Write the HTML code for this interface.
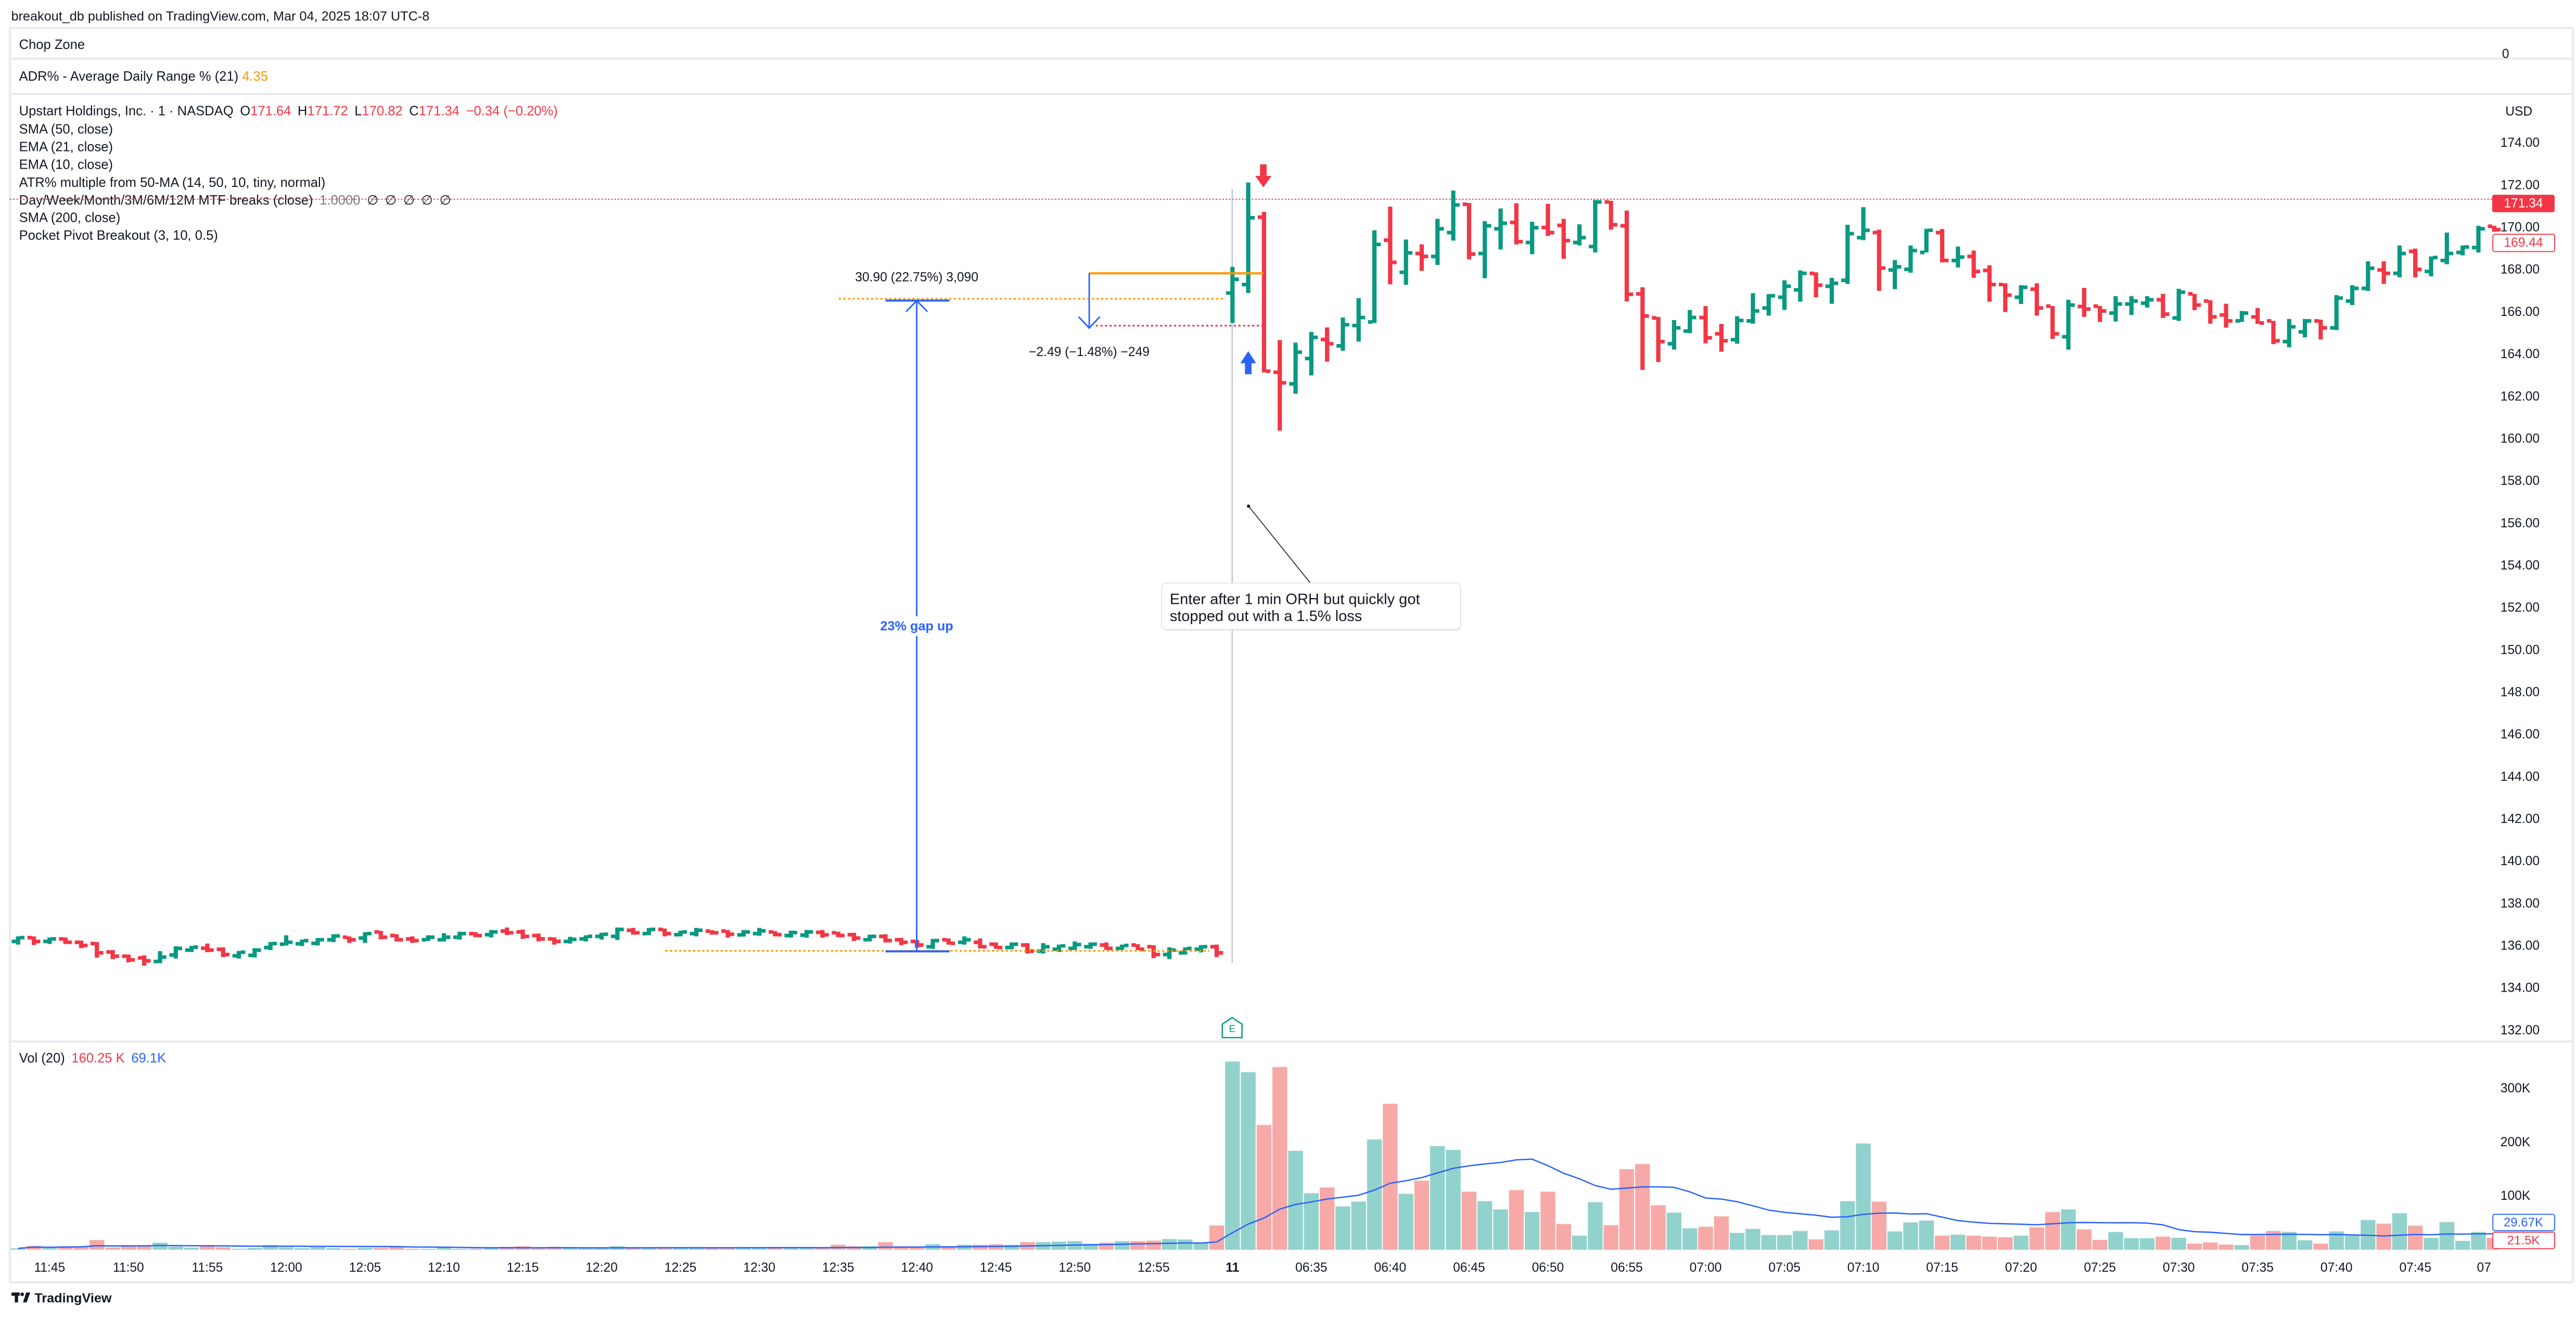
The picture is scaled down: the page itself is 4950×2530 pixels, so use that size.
<!DOCTYPE html>
<html><head><meta charset="utf-8"><style>
html,body{margin:0;padding:0;background:#fff;}
svg{display:block;font-family:"Liberation Sans",sans-serif;}
</style></head><body>
<svg id="chart" width="4950" height="2530" viewBox="0 0 1568 801.4" xmlns="http://www.w3.org/2000/svg">
<rect x="0" y="0" width="1568" height="801.4" fill="#ffffff"/>
<text x="6.8" y="10" dominant-baseline="central" font-size="8" fill="#131722">breakout_db published on TradingView.com, Mar 04, 2025 18:07 UTC-8</text>
<g stroke="#e9eaee" stroke-width="1.3">
<line x1="6" y1="17" x2="1566" y2="17"/><line x1="6" y1="35.7" x2="1566" y2="35.7"/><line x1="6" y1="57.2" x2="1566" y2="57.2"/>
<line x1="6" y1="633.8" x2="1566" y2="633.8"/><line x1="6" y1="780.3" x2="1566" y2="780.3"/>
<line x1="6" y1="17" x2="6" y2="780.3"/><line x1="1566" y1="17" x2="1566" y2="780.3"/>
</g>
<text x="11.6" y="27.2" dominant-baseline="central" font-size="8.1" fill="#131722">Chop Zone</text>
<text x="1523" y="33" dominant-baseline="central" font-size="7.8" fill="#131722">0</text>
<text x="11.6" y="46.5" dominant-baseline="central" font-size="8.1" fill="#131722">ADR% - Average Daily Range % (21) <tspan fill="#ff9800">4.35</tspan></text>
<g font-size="8.1" fill="#131722">
<text x="11.6" y="67.6" dominant-baseline="central">Upstart Holdings, Inc. · 1 · NASDAQ<tspan dx="4">O</tspan><tspan fill="#f23645">171.64</tspan><tspan dx="4">H</tspan><tspan fill="#f23645">171.72</tspan><tspan dx="4">L</tspan><tspan fill="#f23645">170.82</tspan><tspan dx="4">C</tspan><tspan fill="#f23645">171.34</tspan><tspan dx="4" fill="#f23645">−0.34 (−0.20%)</tspan></text>
<text x="11.6" y="78.7" dominant-baseline="central">SMA (50, close)</text>
<text x="11.6" y="89.5" dominant-baseline="central">EMA (21, close)</text>
<text x="11.6" y="100.3" dominant-baseline="central">EMA (10, close)</text>
<text x="11.6" y="111.1" dominant-baseline="central">ATR% multiple from 50-MA (14, 50, 10, tiny, normal)</text>
<text x="11.6" y="122" dominant-baseline="central">Day/Week/Month/3M/6M/12M MTF breaks (close)<tspan dx="4" fill="#787b86">1.0000</tspan><tspan dx="4">∅</tspan><tspan dx="4">∅</tspan><tspan dx="4">∅</tspan><tspan dx="4">∅</tspan><tspan dx="4">∅</tspan></text>
<text x="11.6" y="132.5" dominant-baseline="central">SMA (200, close)</text>
<text x="11.6" y="143.3" dominant-baseline="central">Pocket Pivot Breakout (3, 10, 0.5)</text>
</g>
<text x="1525" y="68" dominant-baseline="central" font-size="7.8" fill="#131722">USD</text>
<line x1="6" y1="121.2" x2="1522" y2="121.2" stroke="#f23645" stroke-width="0.6" stroke-dasharray="1,1"/>
<line x1="750" y1="115" x2="750" y2="586" stroke="#b2b5be" stroke-width="0.6"/>
<g id="priceAxis"></g>
<g id="candles"></g>
<g id="volAxis"></g>
<g id="volumes"></g>
<g id="timeAxis"></g>

<g>
<line x1="510.6" y1="181.8" x2="746" y2="181.8" stroke="#ff9800" stroke-width="1" stroke-dasharray="1.3,1.5"/>
<line x1="405" y1="578.6" x2="736" y2="578.6" stroke="#ff9800" stroke-width="1" stroke-dasharray="1.3,1.5"/>
<line x1="539" y1="182.9" x2="578" y2="182.9" stroke="#2962ff" stroke-width="1.2"/>
<line x1="539" y1="578.9" x2="578" y2="578.9" stroke="#2962ff" stroke-width="1.2"/>
<line x1="558" y1="183" x2="558" y2="578.9" stroke="#2962ff" stroke-width="0.9"/>
<polyline points="551.5,189.6 558,183 564.5,189.6" fill="none" stroke="#2962ff" stroke-width="0.9"/>
<text x="558" y="168.8" text-anchor="middle" dominant-baseline="central" font-size="7.8" fill="#131722">30.90 (22.75%) 3,090</text>
<rect x="530" y="375" width="56" height="12" fill="#ffffff"/>
<text x="558" y="381" text-anchor="middle" dominant-baseline="central" font-size="8" font-weight="bold" fill="#2962ff">23% gap up</text>
</g>
<g>
<line x1="663" y1="166.3" x2="769" y2="166.3" stroke="#ff9800" stroke-width="1.3"/>
<line x1="667" y1="198.2" x2="769" y2="198.2" stroke="#f23645" stroke-width="1" stroke-dasharray="1.3,1.5"/>
<line x1="663" y1="166.3" x2="663" y2="199.6" stroke="#2962ff" stroke-width="0.9"/>
<polyline points="656.5,192.7 663,199.6 669.5,192.7" fill="none" stroke="#2962ff" stroke-width="0.9"/>
<text x="663" y="214.3" text-anchor="middle" dominant-baseline="central" font-size="7.8" fill="#131722">−2.49 (−1.48%) −249</text>
</g>
<g fill="#f23645"><rect x="767" y="100" width="4" height="7"/><polygon points="764,107 774,107 769,114"/></g>
<g fill="#2962ff"><rect x="757.8" y="220.8" width="4" height="6.9"/><polygon points="755,221 764.6,221 759.8,213.7"/></g>
<g>
<line x1="760" y1="308" x2="797.6" y2="354.8" stroke="#131722" stroke-width="0.5"/>
<circle cx="760" cy="308" r="1" fill="#131722"/>
<rect x="707.4" y="355.6" width="182" height="28.2" rx="3" fill="#e6e7ea"/>
<rect x="707" y="354.8" width="182" height="28.2" rx="3" fill="#ffffff" stroke="#e0e3eb" stroke-width="0.5"/>
<text x="712" y="364.8" dominant-baseline="central" font-size="9.2" fill="#131722">Enter after 1 min ORH but quickly got</text>
<text x="712" y="375" dominant-baseline="central" font-size="9.2" fill="#131722">stopped out with a 1.5% loss</text>
</g>
<g>
<polygon points="750,619.2 756,623.2 756,631.4 744,631.4 744,623.2" fill="#ffffff" stroke="#089981" stroke-width="0.8"/>
<text x="750" y="626.2" text-anchor="middle" dominant-baseline="central" font-size="6" fill="#089981">E</text>
</g>
<rect x="1517" y="118.5" width="38" height="10.6" rx="1.2" fill="#f23645"/>
<text x="1536" y="123.8" text-anchor="middle" dominant-baseline="central" font-size="7.8" fill="#ffffff">171.34</text>
<rect x="1517.4" y="142.5" width="37.6" height="10.6" rx="1.2" fill="#ffffff" stroke="#f23645" stroke-width="0.6"/>
<text x="1536" y="147.8" text-anchor="middle" dominant-baseline="central" font-size="7.8" fill="#f23645">169.44</text>
<text x="11.6" y="644" dominant-baseline="central" font-size="8.1" fill="#131722">Vol (20)<tspan dx="4" fill="#f23645">160.25 K</tspan><tspan dx="4" fill="#2962ff">69.1K</tspan></text>
<rect x="1517.4" y="738.9" width="37.6" height="10" rx="1.2" fill="#ffffff" stroke="#2962ff" stroke-width="0.6"/>
<text x="1536" y="743.9" text-anchor="middle" dominant-baseline="central" font-size="7.6" fill="#2962ff">29.67K</text>
<rect x="1517.4" y="749.8" width="37.6" height="10" rx="1.2" fill="#ffffff" stroke="#f23645" stroke-width="0.6"/>
<text x="1536" y="754.8" text-anchor="middle" dominant-baseline="central" font-size="7.6" fill="#f23645">21.5K</text>
<g fill="#131722">
<rect x="7" y="786.5" width="5" height="2"/><rect x="9" y="786.5" width="2" height="6"/><circle cx="13.5" cy="787.6" r="1.1"/><polygon points="14,792.5 16,786.5 18.4,786.5 16.2,792.5"/>
<text x="21" y="790" dominant-baseline="central" font-size="8" font-weight="bold">TradingView</text>
</g>
</svg>
<script>
// ---- data ----
const opens = [136.21,136.39,136.21,136.33,136.17,136.11,135.71,135.51,135.43,135.26,135.57,135.80,135.89,135.84,135.53,135.55,135.92,136.08,136.10,136.12,136.29,136.41,136.37,136.66,136.49,136.33,136.29,136.29,136.41,136.58,136.53,136.70,136.66,136.49,136.33,136.21,136.33,136.45,136.45,136.74,136.58,136.78,136.53,136.58,136.70,136.70,136.52,136.58,136.66,136.49,136.51,136.64,136.62,136.53,136.29,136.45,136.29,136.21,135.96,136.29,136.17,136.17,136.08,135.92,136.04,135.75,135.84,135.88,135.96,136.04,135.88,136.04,135.96,135.59,135.67,135.84,135.96,
166.9,167.3,170.49,163.15,162.6,163.8,164.7,164.4,165.36,165.53,169.4,167.88,168.77,168.63,169.76,171.1,168.77,169.94,170.24,169.29,170.0,170.1,169.29,169.1,171.21,170.08,166.86,165.72,164.5,165.1,165.74,164.97,164.69,165.58,166.19,166.7,167.05,167.83,167.22,167.5,169.52,169.76,167.99,168.02,168.82,169.76,168.44,168.63,167.97,167.3,166.7,167.08,166.28,164.83,166.26,166.28,165.95,166.38,166.42,166.58,165.72,166.86,166.52,165.86,165.58,165.77,165.58,164.6,165.06,165.58,165.25,166.52,167.12,167.99,167.83,168.87,167.92,168.44,168.82,169.05,170.06];
const highs = [136.45,136.45,136.40,136.40,136.25,136.18,135.80,135.59,135.55,135.75,135.98,136.00,136.11,135.93,135.76,135.89,136.18,136.50,136.30,136.37,136.55,136.45,136.65,136.71,136.55,136.45,136.50,136.60,136.67,136.65,136.75,136.87,136.77,136.58,136.40,136.43,136.50,136.62,136.87,136.85,136.85,136.82,136.72,136.85,136.74,136.75,136.75,136.85,136.70,136.72,136.75,136.75,136.67,136.62,136.53,136.55,136.38,136.28,136.33,136.35,136.45,136.35,136.16,136.16,136.13,136.13,136.06,136.21,136.16,136.16,136.06,136.08,136.03,135.93,135.93,136.03,136.06,
168.14,172.13,170.74,164.67,164.55,165.06,165.27,165.74,166.66,169.87,170.99,169.43,169.2,170.41,171.75,171.16,170.3,170.9,171.15,170.27,171.12,170.41,170.15,171.3,171.26,170.8,167.17,165.77,165.62,166.1,166.28,165.44,165.8,166.89,166.85,167.5,167.97,167.88,167.62,170.13,170.96,169.9,168.46,169.15,169.94,169.93,169.1,168.91,168.21,167.36,167.27,167.36,166.28,166.58,167.14,166.29,166.75,166.75,166.75,166.86,167.1,166.86,166.56,166.39,166.05,166.19,165.58,165.67,165.67,165.64,166.8,167.27,168.4,168.4,169.15,169.0,168.63,169.76,169.15,170.08,170.08];
const lows = [136.06,136.04,136.09,136.09,135.89,135.44,135.37,135.22,135.06,135.18,135.40,135.71,135.70,135.47,135.40,135.45,135.80,136.02,135.99,136.02,136.18,136.14,136.14,136.31,136.21,136.14,136.23,136.21,136.30,136.41,136.40,136.51,136.33,136.21,136.06,136.11,136.21,136.30,136.28,136.53,136.51,136.45,136.45,136.45,136.53,136.39,136.44,136.48,136.45,136.39,136.39,136.39,136.41,136.23,136.21,136.16,136.03,135.91,135.86,136.06,136.06,135.88,135.86,135.84,135.64,135.64,135.71,135.81,135.86,135.81,135.81,135.80,135.42,135.37,135.59,135.69,135.47,
165.48,166.9,163.14,160.39,162.13,163.0,163.65,164.17,164.6,165.48,167.31,167.29,167.95,168.23,169.38,168.49,167.6,168.96,169.2,168.74,169.6,168.52,169.15,168.82,169.9,166.5,163.26,163.63,164.22,165.0,164.52,164.12,164.5,165.45,165.83,166.1,166.49,166.7,166.39,167.33,169.4,167.0,167.08,167.86,168.82,168.35,168.11,167.62,166.49,166.0,166.38,165.83,164.73,164.22,165.77,165.53,165.55,165.86,166.21,165.72,165.58,166.09,165.45,165.26,165.53,165.44,164.48,164.33,164.8,164.7,165.15,166.33,167.0,167.33,167.64,167.64,167.69,168.26,168.68,168.82,169.8];
const closes = [136.39,136.21,136.33,136.17,136.02,135.67,135.51,135.34,135.29,135.47,135.88,135.94,135.80,135.59,135.70,135.80,136.11,136.17,136.25,136.29,136.47,136.29,136.58,136.41,136.29,136.25,136.41,136.41,136.58,136.49,136.66,136.62,136.45,136.33,136.21,136.31,136.45,136.55,136.78,136.62,136.78,136.58,136.66,136.74,136.62,136.55,136.66,136.71,136.53,136.63,136.66,136.52,136.49,136.37,136.45,136.25,136.17,136.04,136.25,136.12,136.29,135.96,135.92,136.08,135.75,135.96,136.00,136.06,136.08,135.88,136.02,135.84,135.59,135.80,135.88,135.96,135.67,
167.55,170.46,163.2,162.65,164.1,164.8,164.5,165.4,165.74,169.2,168.35,168.8,168.63,169.94,171.07,168.74,170.08,170.2,169.33,169.99,169.76,169.38,169.52,171.21,170.13,166.84,165.81,164.6,165.25,165.74,164.78,164.64,165.6,166.05,166.77,167.22,167.83,167.27,167.36,169.71,169.87,168.08,168.14,168.91,169.87,168.44,168.6,167.92,167.3,166.8,167.17,166.19,164.97,166.33,166.14,166.05,166.38,166.52,166.58,165.9,166.94,166.33,165.77,165.58,165.95,165.48,164.64,165.3,165.58,165.25,166.66,167.12,168.07,167.83,168.77,168.02,168.58,168.77,169.08,169.94,169.9];
const volumesK = [2.6,7.4,4.2,6.5,6.5,18.1,4.2,8.4,8.4,13.2,5.8,3.9,8.4,4.5,1.9,3.6,8.4,4.5,2.9,4.8,2.9,1.9,3.6,3.6,5.8,1.9,1.9,3.9,1.9,1.9,3.2,5.5,6.5,3.2,5.5,3.2,3.2,3.9,6.5,3.2,3.9,3.9,3.9,3.2,3.2,3.9,3.9,3.2,3.2,3.9,3.2,3.2,9.4,6.5,6.5,14.2,6.5,5.8,10.3,5.2,9.4,9.4,10.3,9.4,14.2,14.2,15.2,16.1,11.3,13.2,16.1,16.1,17.1,20.0,19.1,13.2,45.2,
350.3,330.5,232.1,340.2,184.1,105.2,116.0,80.7,89.7,205.4,271.7,104.1,128.6,192.8,185.9,108.1,90.5,75.0,111.0,70.3,108.1,47.9,26.3,88.6,45.8,149.9,159.6,82.9,69.2,40.0,42.9,62.3,31.4,38.9,27.4,27.4,35.0,19.5,36.0,90.5,197.8,89.7,34.2,50.8,54.4,26.3,28.1,26.3,24.5,23.4,26.3,41.8,70.3,75.0,37.8,18.4,33.2,21.6,21.6,24.5,22.3,11.5,13.7,9.7,8.6,26.3,35.0,33.2,17.7,11.5,34.2,28.1,55.5,48.6,68.1,44.7,22.3,51.5,16.6,33.2,22.3];
const priceTicks = [174,172,170,168,166,164,162,160,158,156,154,152,150,148,146,144,142,140,138,136,134,132];
const volTicks = [100,200,300];
const volTickLabels = ["100K","200K","300K"];
const timeLabelIdx = [2,7,12,17,22,27,32,37,42,47,52,57,62,67,72,77,82,87,92,97,102,107,112,117,122,127,132,137,142,147,152,157];
const timeLabelText = ["11:45","11:50","11:55","12:00","12:05","12:10","12:15","12:20","12:25","12:30","12:35","12:40","12:45","12:50","12:55","11","06:35","06:40","06:45","06:50","06:55","07:00","07:05","07:10","07:15","07:20","07:25","07:30","07:35","07:40","07:45","07"];
const maLen = 20;

// ---- scales ----
const NS = "http://www.w3.org/2000/svg";
const xOf = i => 11 + 9.6 * i;
const yP = p => 627 - (p - 132) * 12.857;
const yV = v => 760.5 - v * 0.327;
const PLOT_R = 1521;
const GREEN = "#089981", RED = "#f23645";
function el(tag, parent){ const e = document.createElementNS(NS, tag); parent.appendChild(e); return e; }

// price axis
const pa = document.getElementById("priceAxis");
priceTicks.forEach(p => {
  const t = el("text", pa);
  
  
  t.setAttribute("x", 1522); t.setAttribute("y", yP(p));
  t.setAttribute("dominant-baseline", "central"); t.setAttribute("font-size", "7.8"); t.setAttribute("fill", "#131722");
  t.textContent = p.toFixed(2);
});

// candles
const cg = document.getElementById("candles");
for (let i = 0; i < opens.length; i++) {
  const x = xOf(i);
  if (x > PLOT_R) continue;
  const col = closes[i] >= opens[i] ? GREEN : RED;
  const g = el("g", cg);
  
  
  g.setAttribute("fill", col);
  const s = el("rect", g);
  s.setAttribute("x", x - 1.3); s.setAttribute("width", 2.6);
  s.setAttribute("y", yP(highs[i])); s.setAttribute("height", Math.max(1, yP(lows[i]) - yP(highs[i])));
  const o = el("rect", g);
  o.setAttribute("x", x - 3.9); o.setAttribute("width", 2.7);
  o.setAttribute("y", yP(opens[i]) - 1.1); o.setAttribute("height", 2.2);
  const c = el("rect", g);
  c.setAttribute("x", x + 1.2); c.setAttribute("width", 2.7);
  c.setAttribute("y", yP(closes[i]) - 1.1); c.setAttribute("height", 2.2);
}

// volume axis
const va = document.getElementById("volAxis");
volTicks.forEach((v, k) => {
  const t = el("text", va);
  
  
  t.setAttribute("x", 1522); t.setAttribute("y", yV(v));
  t.setAttribute("dominant-baseline", "central"); t.setAttribute("font-size", "7.8"); t.setAttribute("fill", "#131722");
  t.textContent = volTickLabels[k];
});

// volume bars
const vg = document.getElementById("volumes");
for (let i = 0; i < volumesK.length; i++) {
  const x = xOf(i);
  if (x > PLOT_R) continue;
  const r = el("rect", vg);
  
  
  const w = Math.min(9.0, PLOT_R - (x - 4.5));
  r.setAttribute("x", x - 4.5); r.setAttribute("width", w);
  r.setAttribute("y", yV(volumesK[i])); r.setAttribute("height", yV(0) - yV(volumesK[i]));
  r.setAttribute("fill", closes[i] >= opens[i] ? "#92d2cc" : "#f7a9a7");
}
// volume moving average
let pts = [];
for (let i = 0; i < volumesK.length; i++) {
  const x = xOf(i); if (x > PLOT_R) break;
  const a = Math.max(0, i - maLen + 1);
  let s = 0; for (let j = a; j <= i; j++) s += volumesK[j];
  pts.push(x.toFixed(2) + "," + yV(s / (i - a + 1)).toFixed(2));
}
const ma = el("polyline", vg);


ma.setAttribute("points", pts.join(" ")); ma.setAttribute("fill", "none");
ma.setAttribute("stroke", "#2962ff"); ma.setAttribute("stroke-width", "0.8");

// time axis
const ta = document.getElementById("timeAxis");
timeLabelIdx.forEach((idx, k) => {
  const t = el("text", ta);
  
  
  t.setAttribute("x", Math.min(xOf(idx), 1512)); t.setAttribute("y", 771.5);
  t.setAttribute("text-anchor", "middle"); t.setAttribute("dominant-baseline", "central");
  t.setAttribute("font-size", "7.8"); t.setAttribute("fill", "#131722");
  if (timeLabelText[k] === "11") t.setAttribute("font-weight", "bold");
  t.textContent = timeLabelText[k];
});
</script>
</body></html>
